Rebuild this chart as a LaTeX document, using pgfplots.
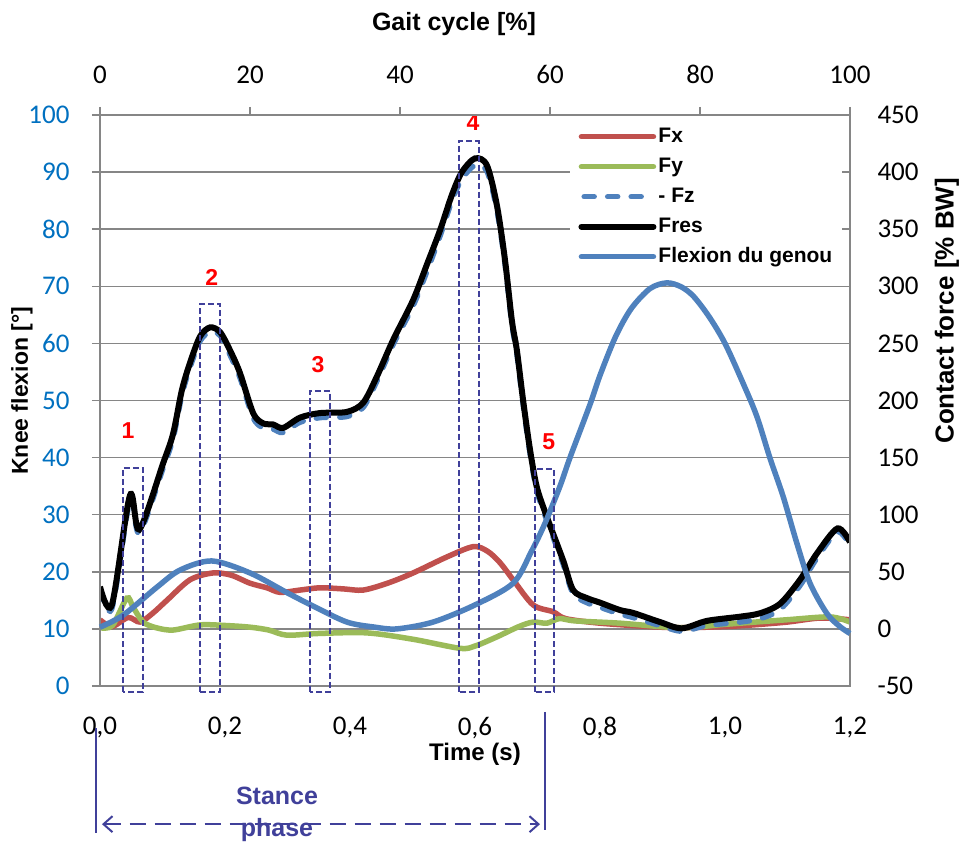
\documentclass[border=0pt]{standalone}
\usepackage{fontspec}
\setmainfont{Liberation Sans}
\newfontfamily\carlito{Carlito}
\usepackage{pgfplots}
\pgfplotsset{compat=1.18}
\usetikzlibrary{arrows.meta}

\definecolor{fxred}{HTML}{C0504D}
\definecolor{fygreen}{HTML}{9BBB59}
\definecolor{xlblue}{HTML}{4F81BD}
\definecolor{tickblue}{HTML}{0070C0}
\definecolor{navy}{HTML}{40409A}
\definecolor{axgray}{HTML}{868686}

\pgfplotsset{
  chartbase/.style={
    scale only axis, width=750pt, height=571pt,
    axis line style={axgray, line width=1.5pt},
    major tick style={axgray, line width=1.5pt},
    tick label style={font=\carlito\fontsize{27}{30}\selectfont},
    /pgf/number format/assume math mode=true,
    label style={font=\bfseries\fontsize{24}{28}\selectfont},
  },
}

\begin{document}
\begin{tikzpicture}
% contact forces, right axis
\begin{axis}[chartbase,
  xmin=0, xmax=1.2, ymin=-50, ymax=450,
  ytick={-50,0,...,450}, xtick=\empty,
  ytick pos=right, yticklabel pos=right,
  tick align=inside, major tick length=6pt,
  ymajorgrids, grid style={axgray, line width=1.5pt},
  yticklabel style={xshift=24pt},
  ylabel={Contact force [\% BW]},
  ylabel style={at={(axis description cs:1.1293,0.657)}, anchor=center,
    font=\bfseries\fontsize{26}{30}\selectfont},
  legend style={at={(axis description cs:0.627,0.986)}, anchor=north west,
    draw=none, fill=white, font=\bfseries\fontsize{21}{24}\selectfont,
    inner xsep=8pt, inner ysep=2pt, row sep=7pt, cells={anchor=west},
    nodes={text height=15pt, text depth=4pt}},
  legend image code/.code={\draw[#1, line cap=round] (0pt,0pt) -- (72pt,0pt);},
]
\addplot[fxred, line width=5.5pt, smooth, tension=0.5] coordinates {
(0.000,8) (0.019,2) (0.045,10) (0.064,6) (0.085,14) (0.107,25) (0.144,43)
(0.181,49) (0.210,47) (0.240,40) (0.267,36) (0.288,32) (0.320,34) (0.352,36)
(0.390,35) (0.421,34) (0.460,40) (0.501,49) (0.555,63) (0.597,72) (0.620,68)
(0.640,58) (0.661,43) (0.693,21) (0.725,15) (0.745,9) (0.800,5) (0.880,2)
(0.928,1) (1.000,2) (1.045,3.5) (1.100,6) (1.152,9.5) (1.200,8)};
\addlegendentry{Fx}
\addplot[fygreen, line width=5.5pt, smooth, tension=0.5] coordinates {
(0.000,1) (0.020,3) (0.043,27) (0.053,19) (0.069,6) (0.090,1) (0.117,-1)
(0.160,3.5) (0.200,3) (0.240,1.5) (0.270,-1) (0.299,-5.5) (0.350,-4)
(0.427,-3.5) (0.500,-9) (0.576,-17) (0.600,-15) (0.635,-7) (0.670,2)
(0.693,6) (0.715,5) (0.735,9) (0.760,7) (0.832,5) (0.928,1) (1.000,4)
(1.099,8) (1.168,10.5) (1.200,6)};
\addlegendentry{Fy}
\addplot[xlblue, line width=5.5pt, line cap=round, dash pattern=on 10pt off 13.5pt, smooth, tension=0.5,
  legend image code/.code={\draw[xlblue, line width=5.5pt, line cap=round, dash pattern=on 10pt off 13.5pt] (2.75pt,0pt) -- (60pt,0pt);}] coordinates {
(0,34) (0.019,18) (0.048,113) (0.063,84) (0.101,141) (0.117,167) (0.131,205)
(0.144,229) (0.160,252) (0.176,260) (0.192,257) (0.208,240) (0.224,220)
(0.245,185) (0.261,176) (0.277,175) (0.293,172) (0.320,181) (0.352,185)
(0.395,186) (0.421,194) (0.443,217) (0.469,249) (0.501,283) (0.523,313)
(0.544,344) (0.563,375) (0.579,394) (0.600,406) (0.619,401) (0.635,367)
(0.648,320) (0.659,267) (0.667,241) (0.677,197) (0.688,154) (0.699,121)
(0.715,95) (0.741,57) (0.757,31) (0.779,23) (0.800,19) (0.832,13) (0.853,10)
(0.896,3) (0.931,-2) (0.971,3) (1.024,6) (1.056,9) (1.088,17) (1.120,38)
(1.147,62) (1.180,85) (1.200,73)};
\addlegendentry{- Fz}
\addplot[black, line width=6pt, smooth, tension=0.5] coordinates {
(0,37) (0.019,21) (0.048,117) (0.063,87) (0.101,145) (0.117,171) (0.131,209)
(0.144,233) (0.160,256) (0.176,264) (0.192,260) (0.208,244) (0.224,224)
(0.245,189) (0.261,180) (0.277,179) (0.293,176) (0.320,185) (0.352,189)
(0.395,190) (0.421,198) (0.443,221) (0.469,253) (0.501,288) (0.523,319)
(0.544,349) (0.563,380) (0.579,400) (0.600,412) (0.619,406) (0.635,371)
(0.648,323) (0.659,270) (0.667,244) (0.677,200) (0.688,157) (0.699,124)
(0.715,98) (0.741,60) (0.757,34) (0.779,27) (0.800,23) (0.832,16.5) (0.853,14)
(0.896,6) (0.931,0.5) (0.971,7) (1.024,10.7) (1.056,13.7) (1.088,22)
(1.120,43) (1.147,66) (1.180,88) (1.200,76)};
\addlegendentry{Fres}
\addlegendimage{xlblue, line width=5.5pt}
\addlegendentry{Flexion du genou}
\end{axis}

% knee flexion, left axis and time axis
\begin{axis}[chartbase,
  xmin=0, xmax=1.2, ymin=0, ymax=100,
  ytick={0,10,...,100}, xtick={0,0.2,0.4,0.6,0.8,1.0,1.2},
  ytick pos=left, xtick pos=bottom,
  tick align=outside, major tick length=8pt,
  xtick style={draw=none},
  yticklabel style={tickblue, xshift=-19pt},
  xticklabel style={yshift=-19.5pt, /pgf/number format/fixed,
    /pgf/number format/zerofill, /pgf/number format/precision=1,
    /pgf/number format/use comma},
  xlabel={Time (s)}, ylabel={Knee flexion [°]},
  xlabel style={at={(axis description cs:0.5,-0.119)}, anchor=center},
  ylabel style={at={(axis description cs:-0.104,0.517)}, anchor=center,
    font=\bfseries\fontsize{23}{27}\selectfont},
  clip=false,
]
\addplot[xlblue, line width=5.5pt, smooth, tension=0.5] coordinates {
(0.000,10.3) (0.037,12.4) (0.091,17.3) (0.128,20.3) (0.179,21.9) (0.240,19.8)
(0.300,16.3) (0.341,14.0) (0.395,11.2) (0.440,10.3) (0.475,10.0) (0.533,11.2)
(0.600,14.2) (0.661,18.0) (0.690,23.5) (0.712,28.5) (0.736,35.0) (0.752,40.0)
(0.784,49.3) (0.800,54.4) (0.825,61.2) (0.850,66.1) (0.880,69.6) (0.907,70.6)
(0.930,69.9) (0.950,68.2) (0.975,64.6) (1.000,60.0) (1.029,53.0) (1.051,47.2)
(1.072,39.9) (1.093,33.2) (1.115,25.0) (1.136,18.0) (1.163,12.7) (1.184,10.4)
(1.200,9.2)};
% highlighted instants
\pgfplotsset{boxline/.style={navy, line width=1.6pt, dash pattern=on 6pt off 3pt, forget plot}}
\addplot[boxline] coordinates {(0.0368,-1.05) (0.0368,38.2) (0.0688,38.2) (0.0688,-1.05) (0.0368,-1.05)};
\addplot[boxline] coordinates {(0.160,-1.05) (0.160,66.9) (0.192,66.9) (0.192,-1.05) (0.160,-1.05)};
\addplot[boxline] coordinates {(0.336,-1.05) (0.336,51.7) (0.368,51.7) (0.368,-1.05) (0.336,-1.05)};
\addplot[boxline] coordinates {(0.5744,-1.05) (0.5744,95.4) (0.6064,95.4) (0.6064,-1.05) (0.5744,-1.05)};
\addplot[boxline] coordinates {(0.696,-1.05) (0.696,38.0) (0.7264,38.0) (0.7264,-1.05) (0.696,-1.05)};
\begin{scope}[every node/.style={text=red, font=\bfseries\fontsize{23}{26}\selectfont}]
\node at (axis cs:0.045,44.8) {1};
\node at (axis cs:0.179,71.5) {2};
\node at (axis cs:0.349,56.2) {3};
\node at (axis cs:0.597,98.6) {4};
\node at (axis cs:0.718,42.7) {5};
\end{scope}
% stance phase
\draw[navy, line width=1.5pt] (axis cs:-0.0064,-7.36) -- (axis cs:-0.0064,-25.7);
\draw[navy, line width=1.5pt] (axis cs:0.712,-4.55) -- (axis cs:0.712,-25.2);
\node[navy, font=\bfseries\fontsize{25}{32}\selectfont, align=center] at (axis cs:0.2832,-22.4) {Stance\\phase};
\draw[navy, line width=2pt, dash pattern=on 16pt off 9pt,
  {Straight Barb[length=9pt,width=16pt]}-{Straight Barb[length=9pt,width=16pt]}]
  (axis cs:0.0032,-24.2) -- (axis cs:0.704,-24.2);
\end{axis}

% gait cycle, top axis
\begin{axis}[chartbase,
  xmin=0, xmax=100, ymin=0, ymax=1,
  axis x line*=top, hide y axis,
  xtick={0,20,...,100}, tick align=outside, major tick length=8pt,
  xticklabel style={yshift=19.5pt},
  xlabel={Gait cycle [\%]},
  xlabel style={at={(axis description cs:0.472,1.159)}, anchor=center,
    font=\bfseries\fontsize{25}{29}\selectfont},
]
\end{axis}

\pgfresetboundingbox
\path[use as bounding box] (-100pt,-157pt) rectangle (859pt,686pt);
\end{tikzpicture}
\end{document}
